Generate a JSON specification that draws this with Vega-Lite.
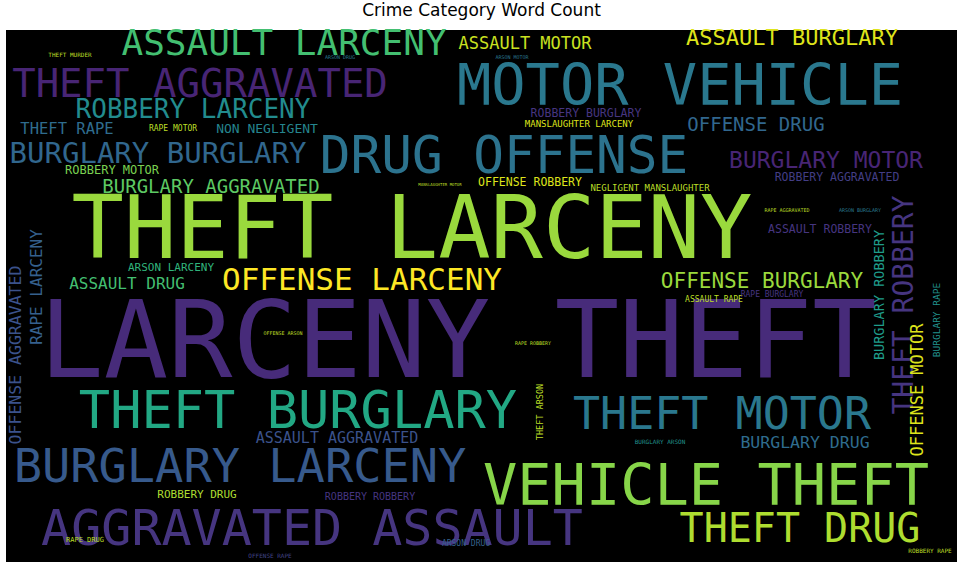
{
"$schema":"https://vega.github.io/schema/vega-lite/v6.json",
"width":951,"height":532,
"autosize":{"type":"none"},
"padding":{"left":6,"top":30,"right":11,"bottom":10},
"background":"white",
"config":{"view":{"fill":"black","stroke":null}},
"title":{"text":"Crime Category Word Count","font":"DejaVu Sans","fontSize":17,"fontWeight":"normal","color":"black","anchor":"middle","offset":6},
"data":{"values":[
{"w":"LARCENY THEFT","x":452,"y":315,"s":107,"c":0.12,"a":0},
{"w":"THEFT LARCENY","x":406,"y":202,"s":87,"c":0.85,"a":0},
{"w":"MOTOR VEHICLE","x":674,"y":58,"s":57,"c":0.4,"a":0},
{"w":"DRUG OFFENSE","x":498,"y":128,"s":51,"c":0.38,"a":0},
{"w":"VEHICLE THEFT","x":700,"y":458,"s":57,"c":0.82,"a":0},
{"w":"AGGRAVATED ASSAULT","x":306,"y":500,"s":50,"c":0.15,"a":0},
{"w":"BURGLARY LARCENY","x":234,"y":438,"s":47,"c":0.28,"a":0},
{"w":"THEFT BURGLARY","x":292,"y":382,"s":52,"c":0.6,"a":0},
{"w":"THEFT MOTOR","x":716,"y":385,"s":45,"c":0.4,"a":0},
{"w":"THEFT DRUG","x":794,"y":500,"s":40,"c":0.88,"a":0},
{"w":"THEFT AGGRAVATED","x":194,"y":55,"s":39,"c":0.1,"a":0},
{"w":"ASSAULT LARCENY","x":278,"y":14,"s":36,"c":0.7,"a":0},
{"w":"OFFENSE LARCENY","x":356,"y":251,"s":31,"c":1.0,"a":0},
{"w":"ROBBERY LARCENY","x":187,"y":80,"s":26,"c":0.48,"a":0},
{"w":"BURGLARY BURGLARY","x":152,"y":124,"s":29,"c":0.33,"a":0},
{"w":"BURGLARY AGGRAVATED","x":205,"y":157,"s":19,"c":0.75,"a":0},
{"w":"OFFENSE BURGLARY","x":756,"y":252,"s":21,"c":0.85,"a":0},
{"w":"BURGLARY MOTOR","x":820,"y":131,"s":23,"c":0.1,"a":0},
{"w":"OFFENSE DRUG","x":750,"y":95,"s":19,"c":0.33,"a":0},
{"w":"ASSAULT BURGLARY","x":786,"y":8,"s":22,"c":0.95,"a":0},
{"w":"ASSAULT MOTOR","x":519,"y":14,"s":17,"c":0.92,"a":0},
{"w":"ROBBERY AGGRAVATED","x":831,"y":148,"s":11.5,"c":0.18,"a":0},
{"w":"NEGLIGENT MANSLAUGHTER","x":644,"y":158,"s":9,"c":0.9,"a":0},
{"w":"OFFENSE ROBBERY","x":524,"y":153,"s":11.5,"c":0.95,"a":0},
{"w":"ROBBERY MOTOR","x":106,"y":140,"s":12,"c":0.8,"a":0},
{"w":"THEFT RAPE","x":61,"y":99,"s":15.5,"c":0.35,"a":0},
{"w":"RAPE MOTOR","x":167,"y":99,"s":8,"c":0.9,"a":0},
{"w":"NON NEGLIGENT","x":261,"y":99,"s":13,"c":0.45,"a":0},
{"w":"ROBBERY BURGLARY","x":580,"y":84,"s":11.5,"c":0.15,"a":0},
{"w":"MANSLAUGHTER LARCENY","x":573,"y":94,"s":9,"c":0.95,"a":0},
{"w":"ASSAULT DRUG","x":121,"y":254,"s":16,"c":0.7,"a":0},
{"w":"ARSON LARCENY","x":165,"y":238,"s":11,"c":0.65,"a":0},
{"w":"ASSAULT ROBBERY","x":814,"y":200,"s":11.5,"c":0.15,"a":0},
{"w":"THEFT ROBBERY","x":899,"y":275,"s":28,"c":0.15,"a":-90},
{"w":"OFFENSE AGGRAVATED","x":10,"y":325,"s":16.5,"c":0.25,"a":-90},
{"w":"RAPE LARCENY","x":31,"y":257,"s":16,"c":0.3,"a":-90},
{"w":"BURGLARY ROBBERY","x":874,"y":265,"s":13.5,"c":0.55,"a":-90},
{"w":"OFFENSE MOTOR","x":912,"y":360,"s":17,"c":0.95,"a":-90},
{"w":"BURGLARY RAPE","x":931,"y":290,"s":9.5,"c":0.5,"a":-90},
{"w":"THEFT ARSON","x":534,"y":382,"s":8.5,"c":0.9,"a":-90},
{"w":"ASSAULT AGGRAVATED","x":331,"y":408,"s":15,"c":0.25,"a":0},
{"w":"BURGLARY DRUG","x":799,"y":413,"s":16.5,"c":0.35,"a":0},
{"w":"ROBBERY DRUG","x":191,"y":465,"s":11,"c":0.88,"a":0},
{"w":"ROBBERY ROBBERY","x":364,"y":467,"s":10,"c":0.15,"a":0},
{"w":"ASSAULT RAPE","x":708,"y":270,"s":8,"c":0.9,"a":0},
{"w":"RAPE BURGLARY","x":766,"y":265,"s":8,"c":0.15,"a":0},
{"w":"ARSON DRUG","x":460,"y":514,"s":8,"c":0.3,"a":0},
{"w":"RAPE DRUG","x":79,"y":510,"s":7,"c":0.9,"a":0},
{"w":"BURGLARY ARSON","x":654,"y":412,"s":6,"c":0.5,"a":0},
{"w":"RAPE ROBBERY","x":527,"y":313,"s":5,"c":0.9,"a":0},
{"w":"OFFENSE ARSON","x":277,"y":303,"s":5,"c":0.9,"a":0},
{"w":"THEFT MURDER","x":64,"y":25,"s":6,"c":0.9,"a":0},
{"w":"OFFENSE RAPE","x":264,"y":526,"s":6,"c":0.2,"a":0},
{"w":"ROBBERY RAPE","x":924,"y":521,"s":6,"c":0.9,"a":0},
{"w":"ARSON BURGLARY","x":854,"y":180,"s":5,"c":0.4,"a":0},
{"w":"RAPE AGGRAVATED","x":781,"y":180,"s":5,"c":0.9,"a":0},
{"w":"ARSON MOTOR","x":506,"y":27,"s":5,"c":0.4,"a":0},
{"w":"ARSON DRUG","x":334,"y":27,"s":5,"c":0.4,"a":0},
{"w":"MANSLAUGHTER MOTOR","x":434,"y":155,"s":4,"c":0.9,"a":0}
]},
"mark":{"type":"text","font":"DejaVu Sans Mono","align":"center","baseline":"middle"},
"encoding":{
"x":{"field":"x","type":"quantitative","scale":{"domain":[0,951]},"axis":null},
"y":{"field":"y","type":"quantitative","scale":{"domain":[0,532],"reverse":true},"axis":null},
"text":{"field":"w"},
"size":{"field":"s","type":"quantitative","scale":{"type":"linear","domain":[0,100],"range":[0,100]},"legend":null},
"angle":{"field":"a","type":"quantitative","scale":null},
"color":{"field":"c","type":"quantitative","scale":{"scheme":"viridis","domain":[0,1]},"legend":null}
}
}
